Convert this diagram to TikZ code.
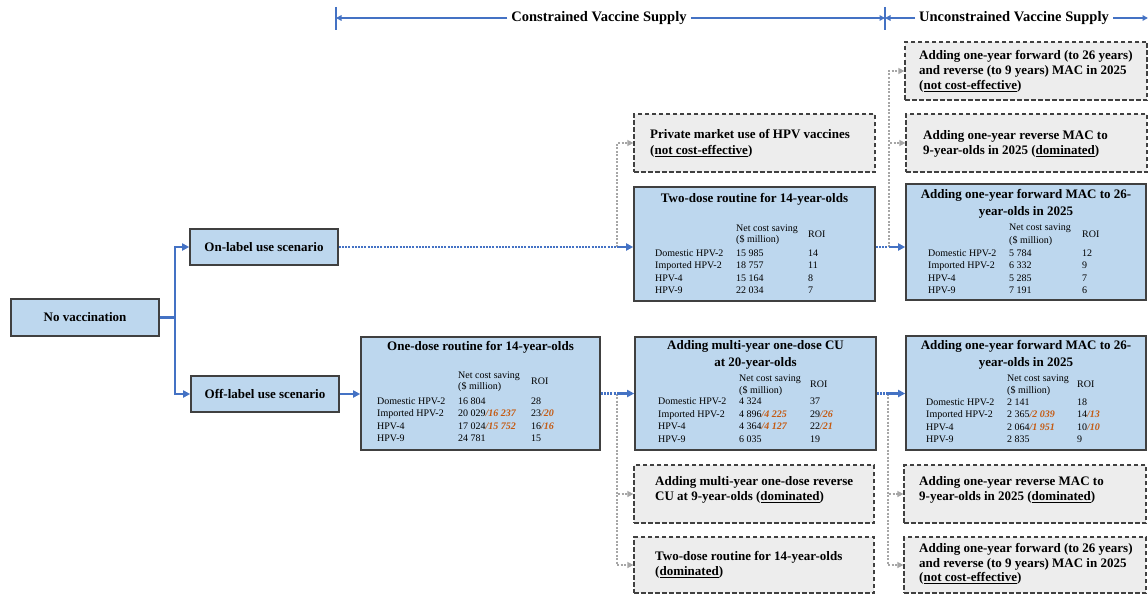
\documentclass[tikz,border=0pt]{standalone}
\usepackage{fontspec}
\setmainfont{Liberation Serif}
\usetikzlibrary{arrows.meta,fit}
\definecolor{lineblue}{HTML}{4472C4}
\definecolor{boxblue}{HTML}{BDD7EE}
\definecolor{boxgray}{HTML}{EDEDED}
\definecolor{edgec}{HTML}{404040}
\definecolor{orng}{HTML}{C55A11}
\definecolor{dotgray}{HTML}{A6A6A6}
\tikzset{
 bluebox/.style={draw=edgec, fill=boxblue, line width=1.6pt, inner sep=0pt},
 graybox/.style={draw=edgec, fill=boxgray, line width=1.3pt, dash pattern=on 4.5pt off 2.5pt, inner sep=0pt},
 ttl/.style={font=\fontsize{13}{16.5}\selectfont\bfseries, inner sep=0pt, align=center},
 gtxt/.style={font=\fontsize{13}{15.5}\selectfont\bfseries, inner sep=0pt, align=left, anchor=west},
 hdr/.style={font=\fontsize{14.5}{16}\selectfont\bfseries, inner sep=0pt},
 tab/.style={font=\fontsize{10}{12}\selectfont, inner sep=0pt, anchor=base west},
 bline/.style={draw=lineblue, line width=2.3pt},
 bdot/.style={draw=lineblue, line width=2.3pt, dash pattern=on 2pt off 1.2pt},
 barrow/.style={draw=lineblue, line width=2.3pt, -{Triangle[length=7pt,width=7pt]}},
 harrow/.style={draw=lineblue, line width=1.7pt, -{Triangle[length=5.5pt,width=5.5pt]}},
 garrow/.style={draw=dotgray, line width=2pt, dash pattern=on 2pt off 1.5pt, -{Triangle[length=6pt,width=6pt]}},
}
\newcommand\trow[8]{%
 \node[tab] (#1a) at (#3,#2) {#6};
 \node[tab] (#1b) at (#4,#2) {#7};
 \node[tab] (#1c) at (#5,#2) {#8};}
\newcommand\thead[6]{%
 \node[tab] (#1n1) at (#2,#4) {Net cost saving};
 \node[tab] (#1n2) at (#2,#5) {(\$ million)};
 \node[tab] (#1r) at (#3,#6) {ROI};}
\newcommand\org[1]{\textcolor{orng}{\bfseries\itshape #1}}
\begin{document}
\begin{tikzpicture}[x=1pt,y=-1pt]
\useasboundingbox (0,0) rectangle (1148,594);
% header
\node[hdr] (hc) at (599,18) {Constrained Vaccine Supply};
\node[hdr] (hu) at (1014,18) {Unconstrained Vaccine Supply};
\coordinate (tL) at (336,18);
\coordinate (tM) at (885,18);
\coordinate (tR) at (1148,18);
\coordinate (tLt) at (336,7);
\coordinate (tLb) at (336,30);
\coordinate (tMt) at (885,7);
\coordinate (tMb) at (885,30);
\draw[lineblue, line width=1.7pt] (tLt) -- (tLb);
\draw[lineblue, line width=1.7pt] (tMt) -- (tMb);
\draw[harrow] ([xshift=-4pt]hc.west) -- (tL);
\draw[harrow] ([xshift=4pt]hc.east) -- (tM);
\draw[harrow] ([xshift=-4pt]hu.west) -- (tM);
\draw[harrow] ([xshift=4pt]hu.east) -- (tR);

% left boxes
\node[bluebox, fit={(11,299) (159,336)}] (novac) {};
\node[ttl] (novact) at (novac.center) {No vaccination};
\node[bluebox, fit={(190,229) (338,265)}] (onl) {};
\node[ttl] (onlt) at (onl.center) {On-label\ use scenario};
\node[bluebox, fit={(191,376) (339,412)}] (offl) {};
\node[ttl] (offlt) at (offl.center) {Off-label\ use scenario};

% gray boxes
\node[graybox, fit={(634,114) (875,172)}] (priv) {};
\node[gtxt] (privt) at (650,143.5) {Private market use of HPV vaccines\\(\underline{not cost-effective})};
\node[graybox, fit={(905,42) (1147,100)}] (fr1) {};
\node[gtxt, font=\fontsize{13}{15}\selectfont\bfseries] (fr1t) at (919,71.5) {Adding one-year forward (to 26 years)\\and reverse (to 9 years) MAC in 2025\\(\underline{not cost-effective})};
\node[graybox, fit={(906,114) (1147,172)}] (fr2) {};
\node[gtxt] (fr2t) at (923,144) {Adding one-year reverse MAC to\\9-year-olds in 2025 (\underline{dominated})};
\node[graybox, fit={(634,465) (874,523)}] (bl1) {};
\node[gtxt] (bl1t) at (655,490) {Adding multi-year one-dose reverse\\CU at 9-year-olds (\underline{dominated})};
\node[graybox, fit={(634,537) (874,593)}] (bl2) {};
\node[gtxt] (bl2t) at (655,565) {Two-dose routine for 14-year-olds\\(\underline{dominated})};
\node[graybox, fit={(904,465) (1146,523)}] (br1) {};
\node[gtxt] (br1t) at (919,490) {Adding one-year reverse MAC to\\9-year-olds in 2025 (\underline{dominated})};
\node[graybox, fit={(904,537) (1146,593)}] (br2) {};
\node[gtxt, font=\fontsize{13}{14.5}\selectfont\bfseries] (br2t) at (919,564) {Adding one-year forward (to 26 years)\\and reverse (to 9 years) MAC in 2025\\(\underline{not cost-effective})};

% two-dose box
\node[bluebox, fit={(634,187) (875,301)}] (two) {};
\node[ttl] (twot) at (754.5,199) {Two-dose routine for 14-year-olds};
\thead{twoh}{736}{808}{231.5}{242}{237}
\trow{twoA}{256}{655}{736}{808}{Domestic HPV-2}{15 985}{14}
\trow{twoB}{268.5}{655}{736}{808}{Imported HPV-2}{18 757}{11}
\trow{twoC}{281}{655}{736}{808}{HPV-4}{15 164}{8}
\trow{twoD}{293.5}{655}{736}{808}{HPV-9}{22 034}{7}

% forward MAC top
\node[bluebox, fit={(906,184) (1146,300)}] (fm) {};
\node[ttl] (fmt) at (1026,204) {Adding one-year forward MAC to 26-\\year-olds in 2025};
\thead{fmh}{1009}{1082}{230}{243.5}{237}
\trow{fmA}{256}{928}{1009}{1082}{Domestic HPV-2}{5 784}{12}
\trow{fmB}{268.5}{928}{1009}{1082}{Imported HPV-2}{6 332}{9}
\trow{fmC}{281}{928}{1009}{1082}{HPV-4}{5 285}{7}
\trow{fmD}{293.5}{928}{1009}{1082}{HPV-9}{7 191}{6}

% one-dose box
\node[bluebox, fit={(361,337) (600,450)}] (one) {};
\node[ttl] (onet) at (480.5,347) {One-dose routine for 14-year-olds};
\thead{oneh}{458}{531}{378.5}{389.5}{384}
\trow{oneA}{404}{377}{458}{531}{Domestic HPV-2}{16 804}{28}
\trow{oneB}{416.5}{377}{458}{531}{Imported HPV-2}{20 029\org{/16 237}}{23\org{/20}}
\trow{oneC}{429}{377}{458}{531}{HPV-4}{17 024\org{/15 752}}{16\org{/16}}
\trow{oneD}{441.5}{377}{458}{531}{HPV-9}{24 781}{15}

% multi-year box
\node[bluebox, fit={(635,337) (876,450)}] (mu) {};
\node[ttl] (mut) at (755.5,355) {Adding multi-year one-dose CU\\at 20-year-olds};
\thead{muh}{739}{810}{381}{393.5}{387}
\trow{muA}{404.5}{658}{739}{810}{Domestic HPV-2}{4 324}{37}
\trow{muB}{417}{658}{739}{810}{Imported HPV-2}{4 896\org{/4 225}}{29\org{/26}}
\trow{muC}{429.5}{658}{739}{810}{HPV-4}{4 364\org{/4 127}}{22\org{/21}}
\trow{muD}{442}{658}{739}{810}{HPV-9}{6 035}{19}

% forward MAC middle
\node[bluebox, fit={(906,336) (1146,450)}] (fm2) {};
\node[ttl] (fm2t) at (1026,355) {Adding one-year forward MAC to 26-\\year-olds in 2025};
\thead{fmm}{1007}{1077}{381}{393.5}{387}
\trow{fmmA}{405}{926}{1007}{1077}{Domestic HPV-2}{2 141}{18}
\trow{fmmB}{417.5}{926}{1007}{1077}{Imported HPV-2}{2 365\org{/2 039}}{14\org{/13}}
\trow{fmmC}{430}{926}{1007}{1077}{HPV-4}{2 064\org{/1 951}}{10\org{/10}}
\trow{fmmD}{442.5}{926}{1007}{1077}{HPV-9}{2 835}{9}

% junctions
\coordinate (b0) at (175,317.5);
\coordinate (j1) at (617,247);
\coordinate (j2) at (889,247);
\coordinate (j3) at (617,393.5);
\coordinate (j4) at (888,393.5);

% gray dotted links
\draw[garrow] (j1) |- (priv.west);
\draw[garrow] (j2) |- (fr1.west);
\draw[garrow] (j2) |- (fr2.west);
\draw[garrow] (j3) |- (bl1.west);
\draw[garrow] (j3) |- (bl2.west);
\draw[garrow] (j4) |- (br1.west);
\draw[garrow] (j4) |- (br2.west);

% blue links
\draw[bline] (novac.east) -- (b0);
\draw[barrow] (b0) |- (onl.west);
\draw[barrow] (b0) |- (offl.west);
\draw[bdot] (onl.east) -- (j1);
\draw[barrow] (j1) -- (j1 -| two.west);
\draw[bdot] (j2 -| two.east) -- (j2);
\draw[barrow] (j2) -- (j2 -| fm.west);
\draw[barrow] (offl.east) -- (offl.east -| one.west);
\draw[bdot] (j3 -| one.east) -- (j3);
\draw[barrow] (j3) -- (j3 -| mu.west);
\draw[bdot] (j4 -| mu.east) -- (j4);
\draw[barrow] (j4) -- (j4 -| fm2.west);
\end{tikzpicture}
\end{document}
